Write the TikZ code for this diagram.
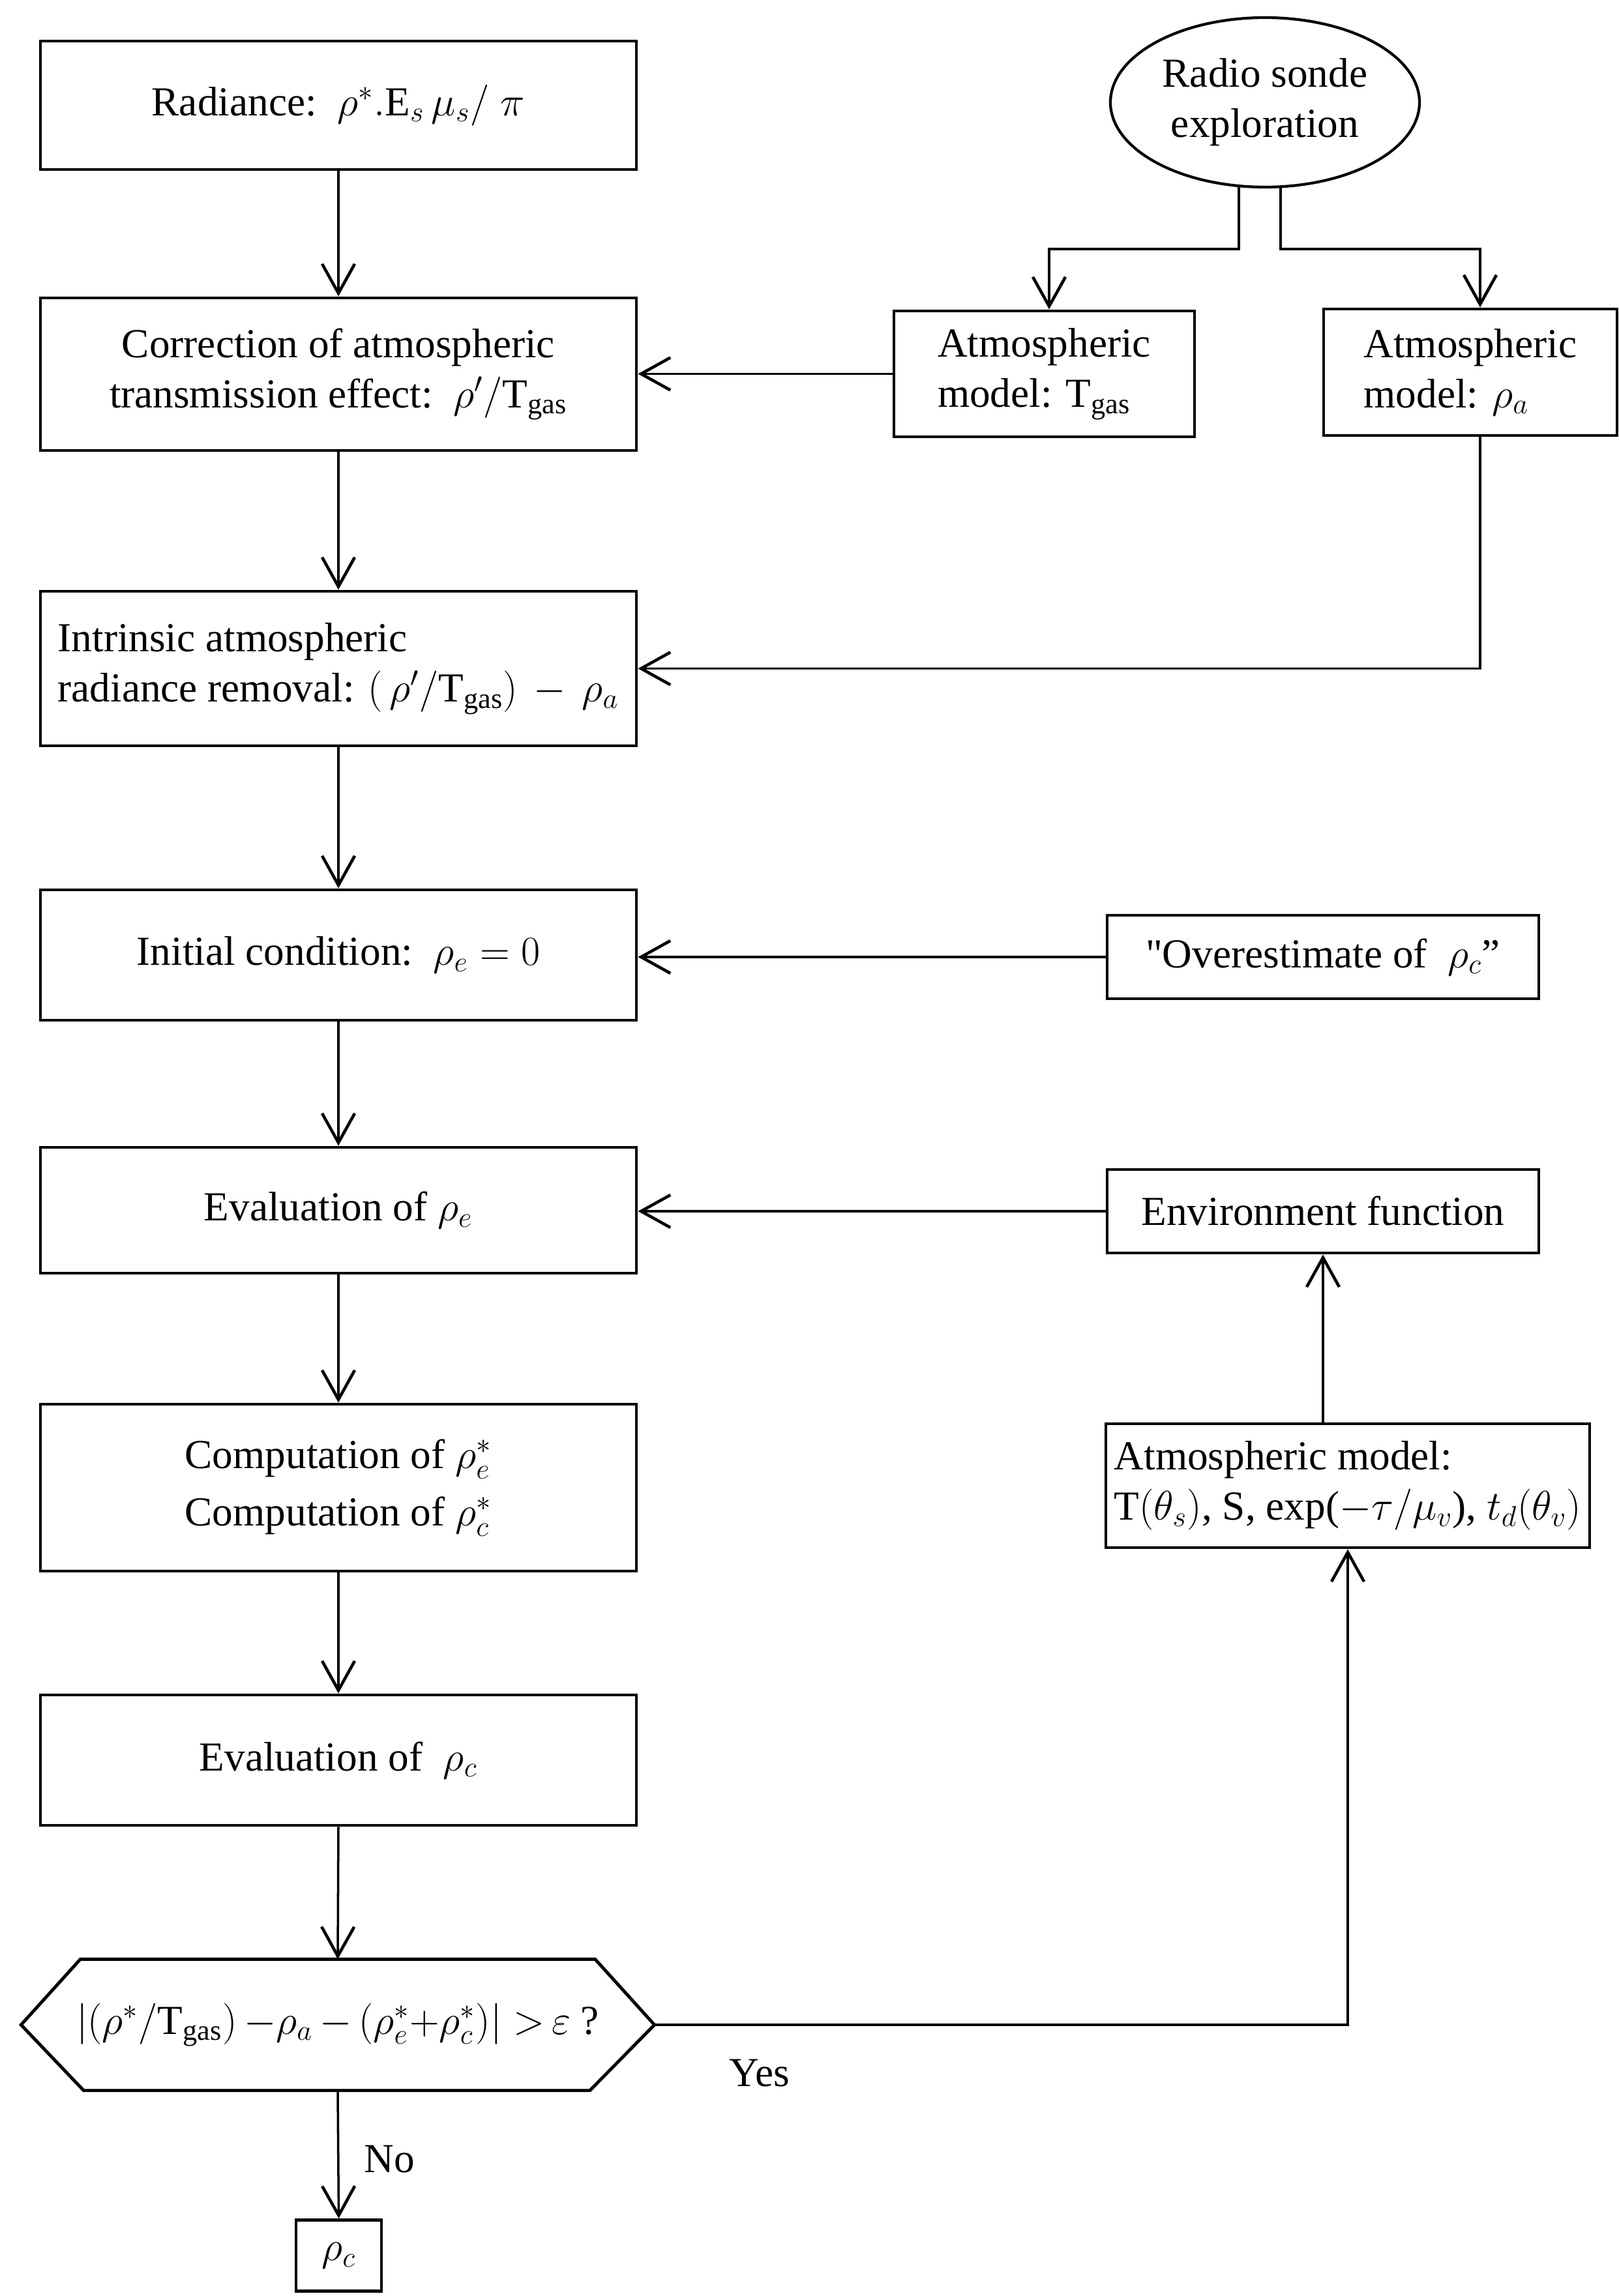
\RequirePackage{fix-cm}
\documentclass[tikz,border=0pt]{standalone}
\usepackage{fontspec}
\setmainfont{Liberation Serif}
\newfontfamily\rawfont{Liberation Serif}
\usetikzlibrary{arrows.meta,calc,shapes.geometric}
\newcommand{\fs}{\fontsize{18}{22}\selectfont}
\tikzset{
  box/.style={draw, line width=1.4pt, inner sep=0pt, font=\fs, align=center},
  conn/.style={line width=1pt, -{Straight Barb[length=4.5mm,width=5mm,line width=1.3pt]}},
  lbl/.style={font=\fs, inner sep=0pt}
}
\begin{document}
\begin{tikzpicture}
\useasboundingbox[fill=white] (0,0) rectangle (24.82,-35.22);

% left column
\node[box, minimum width=9.14cm, minimum height=1.97cm] (rad) at (5.19,-1.615)
  {Radiance:\ \ $\rho^{*}.\mathrm{E}_{s}\,\mu_{s}/\;\pi$};
\node[box, minimum width=9.14cm, minimum height=2.34cm] (corr) at (5.19,-5.74)
  {Correction of atmospheric\\ transmission effect:\ \ $\rho'/\mathrm{T}_{\mathrm{gas}}$};
\node[box, minimum width=9.14cm, minimum height=2.37cm, align=left] (intr) at (5.19,-10.255)
  {Intrinsic atmospheric\\ radiance removal: $(\,\rho'/\mathrm{T}_{\mathrm{gas}})\,-\,\rho_{a}$};
\node[box, minimum width=9.14cm, minimum height=2.00cm] (init) at (5.19,-14.65)
  {Initial condition:\ \ $\rho_{e} = 0$};
\node[box, minimum width=9.14cm, minimum height=1.93cm] (evale) at (5.19,-18.565)
  {Evaluation of $\rho_{e}$};
\node[box, minimum width=9.14cm, minimum height=2.56cm, font=\fontsize{18}{25}\selectfont] (comp) at (5.19,-22.82)
  {Computation of $\rho_{e}^{*}$\\ Computation of $\rho_{c}^{*}$};
\node[box, minimum width=9.14cm, minimum height=2.00cm] (evalc) at (5.19,-27.0)
  {Evaluation of\ \ $\rho_{c}$};
\node[lbl, minimum width=9.70cm, minimum height=2.00cm] (hex) at (5.18,-31.06)
  {$|(\rho^{*}/\mathrm{T}_{\mathrm{gas}})\,{-}\rho_{a}\,{-}\,(\rho_{e}^{*}{+}\rho_{c}^{*})|\;{>}\,\varepsilon$\ ?};
\draw[line width=1.4pt] (hex.west) -- ($(hex.north west)+(0.91,0)$) -- ($(hex.north east)+(-0.91,0)$)
  -- (hex.east) -- ($(hex.south east)+(-0.99,0)$) -- ($(hex.south west)+(0.96,0)$) -- cycle;
\node[box, minimum width=1.31cm, minimum height=1.09cm] (out) at (5.195,-34.6) {$\rho_{c}$};

% right column
\node[box, ellipse, line width=1.2pt, minimum width=4.74cm, minimum height=2.60cm] (sonde) at (19.40,-1.57)
  {Radio sonde\\ exploration};
\node[box, minimum width=4.61cm, minimum height=1.93cm, align=left] (tgas) at (16.015,-5.735)
  {Atmospheric\\ model: $\mathrm{T}_{\mathrm{gas}}$};
\node[box, minimum width=4.50cm, minimum height=1.94cm, align=left] (rhoa) at (22.55,-5.71)
  {Atmospheric\\ model: $\rho_{a}$};
\node[box, minimum width=6.62cm, minimum height=1.28cm] (over) at (20.29,-14.68)
  {{\rawfont"}Overestimate of\ \ $\rho_{c}$''};
\node[box, minimum width=6.62cm, minimum height=1.28cm] (env) at (20.29,-18.58)
  {Environment function};
\node[box, minimum width=7.42cm, minimum height=1.90cm, align=left] (atm) at (20.67,-22.79)
  {Atmospheric model:\\ $\mathrm{T}(\theta_{s})$, S, exp($-\tau/\mu_{v}$), $t_{d}(\theta_{v})$};

% labels
\node[lbl] (yes) at (11.65,-31.80) {Yes};
\node[lbl] (no) at (5.97,-33.12) {No};

% bends
\coordinate (b1) at (16.09,-3.82);
\coordinate (b2) at (22.70,-3.82);
\coordinate (s1) at ($(sonde.south)+(-0.40,0.02)$);
\coordinate (s2) at ($(sonde.south)+(0.24,0.01)$);

% connectors: main column
\draw[conn] (rad) -- (corr);
\draw[conn] (corr) -- (intr);
\draw[conn] (intr) -- (init);
\draw[conn] (init) -- (evale);
\draw[conn] (evale) -- (comp);
\draw[conn] (comp) -- (evalc);
\draw[conn] (evalc.south) -- (hex.north);
\draw[conn] (hex.south) -- (out.north);

% from radio sonde
\draw[conn] (s1) |- (b1) -- (b1 |- tgas.north);
\draw[conn] (s2) |- (b2) -- (b2 |- rhoa.north);

% side inputs
\draw[conn] (tgas.west) -- (tgas.west -| corr.east);
\draw[conn] (b2 |- rhoa.south) |- (intr.east);
\draw[conn] (over.west) -- (over.west -| init.east);
\draw[conn] (env.west) -- (env.west -| evale.east);
\draw[conn] (atm.north -| env.south) -- (env.south);
\draw[conn] (hex.east) -| (atm.south);
\end{tikzpicture}
\end{document}
